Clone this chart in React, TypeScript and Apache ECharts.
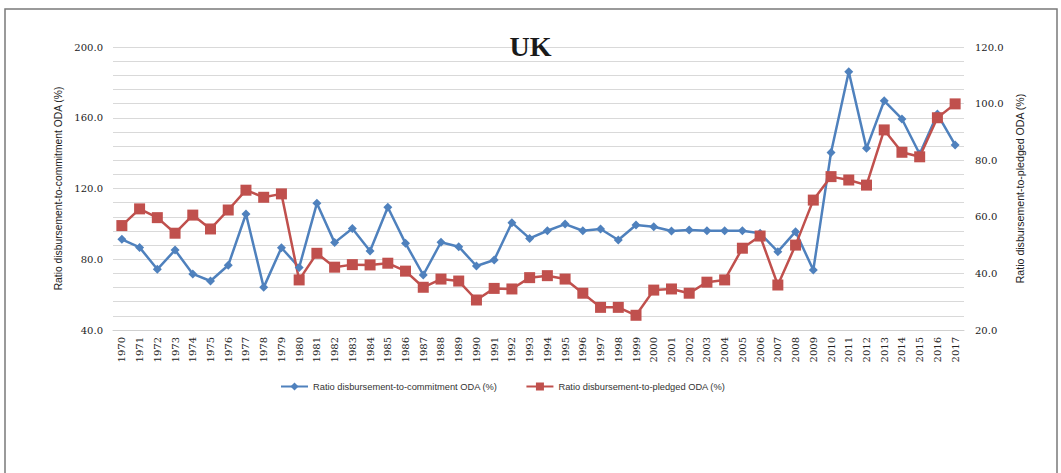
import React, { useEffect, useRef } from "react";
import * as echarts from "echarts";

const years = [
  "1970", "1971", "1972", "1973", "1974", "1975", "1976", "1977", "1978", "1979",
  "1980", "1981", "1982", "1983", "1984", "1985", "1986", "1987", "1988", "1989",
  "1990", "1991", "1992", "1993", "1994", "1995", "1996", "1997", "1998", "1999",
  "2000", "2001", "2002", "2003", "2004", "2005", "2006", "2007", "2008", "2009",
  "2010", "2011", "2012", "2013", "2014", "2015", "2016", "2017",
];

const commitmentRatio = [
  91.3, 86.7, 74.3, 85.2, 71.7, 67.7, 76.6, 105.6, 64.1, 86.5,
  75.4, 111.6, 89.4, 97.4, 84.7, 109.4, 89.0, 71.1, 89.6, 87.1,
  76.2, 79.6, 100.7, 91.8, 96.1, 99.9, 96.1, 97.1, 90.9, 99.4,
  98.4, 96.0, 96.5, 96.1, 96.1, 96.1, 94.7, 84.3, 95.6, 73.9,
  140.4, 186.0, 142.7, 169.6, 159.3, 139.5, 162.1, 144.6,
];

const pledgedRatio = [
  56.9, 62.8, 59.7, 54.2, 60.6, 55.7, 62.4, 69.4, 66.9, 68.1,
  37.7, 47.1, 42.2, 43.1, 43.0, 43.6, 40.8, 35.1, 38.0, 37.3,
  30.6, 34.7, 34.5, 38.5, 39.2, 38.0, 33.0, 28.0, 28.0, 25.2,
  34.1, 34.5, 33.0, 36.9, 37.7, 48.9, 53.2, 35.9, 50.0, 65.9,
  74.2, 73.0, 71.2, 90.7, 82.8, 81.2, 95.0, 99.9,
];

const leftName = "Ratio disbursement-to-commitment ODA (%)";
const rightName = "Ratio disbursement-to-pledged ODA (%)";

export default function App() {
  const ref = useRef<HTMLDivElement>(null);
  useEffect(() => {
    if (!ref.current) return;
    const chart = echarts.init(ref.current, undefined, { renderer: "svg" });
    const serif = "DejaVu Serif";
    const sans = "Liberation Sans";
    chart.setOption({
      animation: false,
      backgroundColor: "#ffffff",
      title: {
        text: "UK",
        left: "center",
        top: 27,
        textStyle: { fontFamily: "Liberation Serif", fontWeight: "bold", fontSize: 28, color: "#1a1a1a" },
      },
      graphic: [
        {
          type: "rect",
          shape: { x: 5, y: 9, width: 1052, height: 520 },
          style: { fill: "none", stroke: "#7a7a7a", lineWidth: 1.5 },
          silent: true,
        },
      ],
      legend: {
        left: 275,
        top: 377,
        itemWidth: 27,
        itemHeight: 10,
        itemGap: 28,
        textStyle: { fontFamily: sans, fontSize: 9.3, color: "#333" },
        data: [leftName, rightName],
      },
      grid: { left: 113, right: 97, top: 47, bottom: 143 },
      xAxis: {
        type: "category",
        data: years,
        boundaryGap: true,
        axisLine: { show: true, lineStyle: { color: "#d0d0d0" } },
        axisTick: { show: false },
        axisLabel: { rotate: 90, fontFamily: serif, fontSize: 10, color: "#222", margin: 7, interval: 0 },
      },
      yAxis: [
        {
          type: "value",
          min: 40,
          max: 200,
          interval: 8,
          name: leftName,
          nameLocation: "middle",
          nameRotate: 90,
          nameGap: 48,
          nameTextStyle: { fontFamily: sans, fontSize: 10.3, color: "#222" },
          axisLine: { show: false },
          axisTick: { show: false },
          axisLabel: {
            fontFamily: serif,
            fontSize: 10,
            color: "#222",
            margin: 10,
            formatter: (v: number) => (Math.round(v) % 40 === 0 ? v.toFixed(1) : ""),
          },
          splitLine: { show: true, lineStyle: { color: "#d9d9d9", width: 1 } },
        },
        {
          type: "value",
          min: 20,
          max: 120,
          interval: 4,
          position: "right",
          name: rightName,
          nameLocation: "middle",
          nameRotate: 90,
          nameGap: 48,
          nameTextStyle: { fontFamily: sans, fontSize: 10.6, color: "#222" },
          axisLine: { show: false },
          axisTick: { show: false },
          axisLabel: {
            fontFamily: serif,
            fontSize: 10,
            color: "#222",
            margin: 11,
            formatter: (v: number) => (Math.round(v) % 20 === 0 ? v.toFixed(1) : ""),
          },
          splitLine: { show: false },
        },
      ],
      series: [
        {
          name: leftName,
          type: "line",
          yAxisIndex: 0,
          data: commitmentRatio,
          symbol: "diamond",
          symbolSize: 9,
          lineStyle: { color: "#4F81BD", width: 2.5 },
          itemStyle: { color: "#4F81BD" },
        },
        {
          name: rightName,
          type: "line",
          yAxisIndex: 1,
          data: pledgedRatio,
          symbol: "rect",
          symbolSize: 11,
          lineStyle: { color: "#C0504D", width: 2.5 },
          itemStyle: { color: "#C0504D" },
        },
      ],
    });
    return () => chart.dispose();
  }, []);
  return (
    <div
      ref={ref}
      style={{ position: "absolute", left: 0, top: 0, width: 1061, height: 473 }}
    />
  );
}
